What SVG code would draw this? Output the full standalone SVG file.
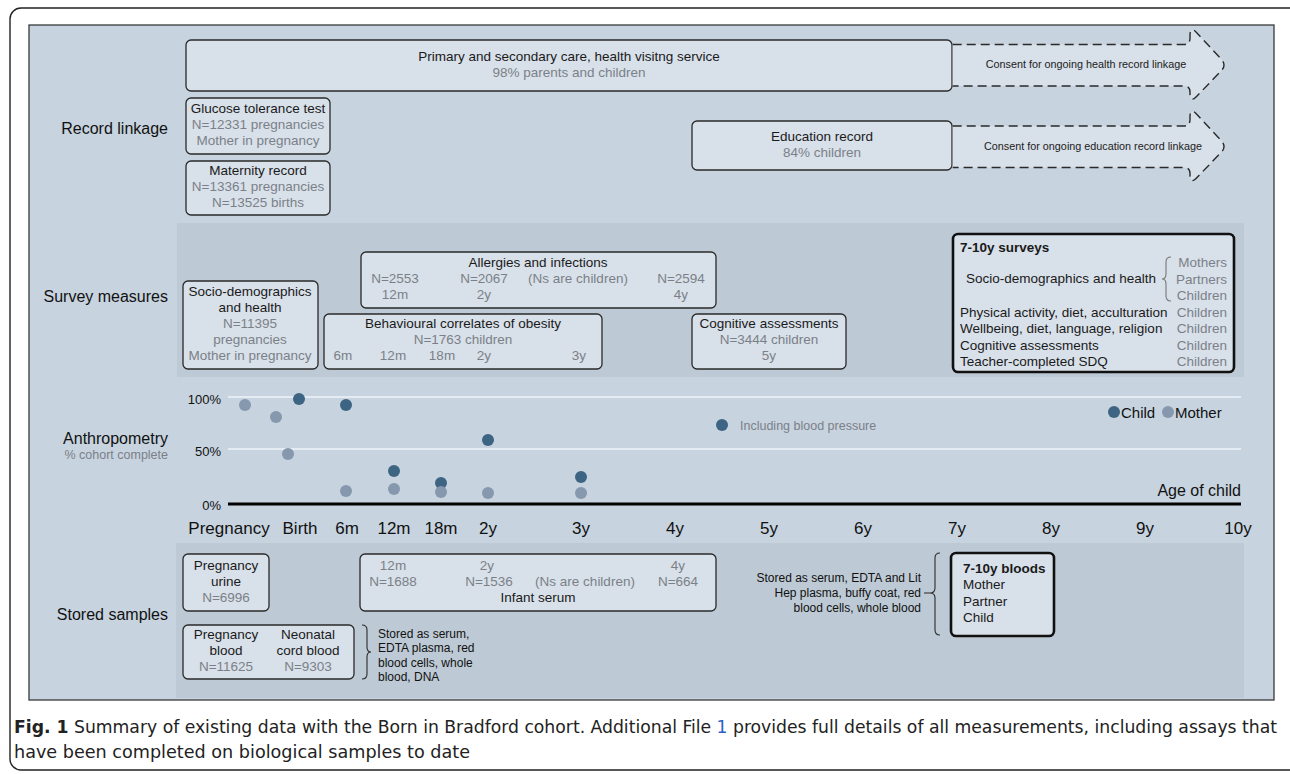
<svg xmlns="http://www.w3.org/2000/svg" width="1290" height="774" viewBox="0 0 1290 774">
<defs>
<style>
text{font-family:"Liberation Sans",Arial,sans-serif;}
.box{fill:#d8e0e9;stroke:#2a2a2a;stroke-width:1.3;}
.thick{fill:#d8e0e9;stroke:#111;stroke-width:2.6;}
.t{font-size:13.5px;fill:#1a1a1a;}
.g{font-size:13.5px;fill:#7b8088;}
.c{text-anchor:middle;}
.e{text-anchor:end;}
.lab{font-size:16px;fill:#111;text-anchor:end;}
.arrow{fill:#d8e0e9;stroke:#2a2a2a;stroke-width:1.4;stroke-dasharray:9,5;}
.brace{fill:none;stroke:#2a2a2a;stroke-width:1.1;}
.grid{stroke:#eef3f8;stroke-width:1.6;}
.child{fill:#3d6483;}
.mother{fill:#8698ad;}
.ax{font-size:17px;fill:#111;text-anchor:middle;}
.yl{font-size:13px;fill:#111;text-anchor:end;}
.cap{font-family:"DejaVu Sans Condensed","Liberation Sans Narrow","Liberation Sans",sans-serif;font-stretch:condensed;font-size:17px;fill:#222;}
</style>
</defs>
<rect x="10" y="8" width="1290" height="762" rx="11" fill="#fff" stroke="#222" stroke-width="1.4"/>
<rect x="29" y="25" width="1245" height="675" fill="#c7d3df" stroke="#3a3a3a" stroke-width="1.3"/>
<rect x="177" y="223" width="1067" height="154" fill="#bdc9d4"/>
<rect x="176" y="543" width="1068" height="155" fill="#bdc9d4"/>

<g id="row-labels">
<text class="lab" x="168" y="134">Record linkage</text>
<text class="lab" x="168" y="302">Survey measures</text>
<text class="lab" x="168" y="444">Anthropometry</text>
<text x="168" y="459" style="font-size:12.5px;fill:#7b8088;text-anchor:end">% cohort complete</text>
<text class="lab" x="168" y="620">Stored samples</text>
</g>

<g id="primary-care">
<rect class="box" x="186" y="40" width="766" height="51" rx="5"/>
<text class="t c" x="569" y="61">Primary and secondary care, health visitng service</text>
<text class="g c" x="569" y="77">98% parents and children</text>
</g>
<g id="education-record">
<rect class="box" x="692" y="121" width="260" height="49" rx="5"/>
<text class="t c" x="822" y="141">Education record</text>
<text class="g c" x="822" y="157">84% children</text>
</g>
<g id="glucose">
<rect class="box" x="186" y="98" width="144" height="56" rx="5"/>
<text class="t c" x="258" y="113">Glucose tolerance test</text>
<text class="g c" x="258" y="129">N=12331 pregnancies</text>
<text class="g c" x="258" y="145">Mother in pregnancy</text>
</g>
<g id="maternity">
<rect class="box" x="186" y="161" width="144" height="54" rx="5"/>
<text class="t c" x="258" y="175">Maternity record</text>
<text class="g c" x="258" y="191">N=13361 pregnancies</text>
<text class="g c" x="258" y="207">N=13525 births</text>
</g>

<g id="socio">
<rect class="box" x="183" y="281" width="135" height="88" rx="5"/>
<text class="t c" x="250" y="296">Socio-demographics</text>
<text class="t c" x="250" y="312">and health</text>
<text class="g c" x="250" y="328">N=11395</text>
<text class="g c" x="250" y="344">pregnancies</text>
<text class="g c" x="250" y="360">Mother in pregnancy</text>
</g>
<g id="allergies">
<rect class="box" x="361" y="252" width="355" height="56" rx="5"/>
<text class="t c" x="538" y="267">Allergies and infections</text>
<text class="g c" x="395" y="283">N=2553</text>
<text class="g c" x="484" y="283">N=2067</text>
<text class="g c" x="578" y="283">(Ns are children)</text>
<text class="g c" x="681" y="283">N=2594</text>
<text class="g c" x="395" y="299">12m</text>
<text class="g c" x="484" y="299">2y</text>
<text class="g c" x="681" y="299">4y</text>
</g>
<g id="behavioural">
<rect class="box" x="324" y="314" width="278" height="55" rx="5"/>
<text class="t c" x="463" y="328">Behavioural correlates of obesity</text>
<text class="g c" x="463" y="344">N=1763 children</text>
<text class="g c" x="343" y="360">6m</text>
<text class="g c" x="393" y="360">12m</text>
<text class="g c" x="442" y="360">18m</text>
<text class="g c" x="484" y="360">2y</text>
<text class="g c" x="579" y="360">3y</text>
</g>
<g id="cognitive">
<rect class="box" x="692" y="314" width="154" height="55" rx="5"/>
<text class="t c" x="769" y="328">Cognitive assessments</text>
<text class="g c" x="769" y="344">N=3444 children</text>
<text class="g c" x="769" y="360">5y</text>
</g>
<g id="surveys-7-10y">
<rect class="thick" x="953" y="234" width="281" height="138" rx="5"/>
<text class="t" x="960" y="252" style="font-weight:bold">7-10y surveys</text>
<text class="t c" x="1061" y="283">Socio-demographics and health</text>
<text class="g e" x="1227" y="267">Mothers</text>
<text class="g e" x="1227" y="284">Partners</text>
<text class="g e" x="1227" y="300">Children</text>
<text class="t" x="960" y="317">Physical activity, diet, acculturation</text>
<text class="g e" x="1227" y="317">Children</text>
<text class="t" x="960" y="333">Wellbeing, diet, language, religion</text>
<text class="g e" x="1227" y="333">Children</text>
<text class="t" x="960" y="350">Cognitive assessments</text>
<text class="g e" x="1227" y="350">Children</text>
<text class="t" x="960" y="366">Teacher-completed SDQ</text>
<text class="g e" x="1227" y="366">Children</text>
</g>

<g id="anthropometry-chart">
<line class="grid" x1="228" y1="397" x2="1241" y2="397"/>
<line class="grid" x1="228" y1="449" x2="1241" y2="449"/>
<line x1="228" y1="504" x2="1241" y2="504" stroke="#000" stroke-width="3"/>
<text class="yl" x="221" y="404">100%</text>
<text class="yl" x="221" y="456">50%</text>
<text class="yl" x="221" y="510">0%</text>
<text x="1241" y="496" style="font-size:16px;fill:#111;text-anchor:end">Age of child</text>
<text class="ax" x="229" y="534">Pregnancy</text>
<text class="ax" x="300" y="534">Birth</text>
<text class="ax" x="347" y="534">6m</text>
<text class="ax" x="394" y="534">12m</text>
<text class="ax" x="441" y="534">18m</text>
<text class="ax" x="488" y="534">2y</text>
<text class="ax" x="581" y="534">3y</text>
<text class="ax" x="675" y="534">4y</text>
<text class="ax" x="769" y="534">5y</text>
<text class="ax" x="863" y="534">6y</text>
<text class="ax" x="957" y="534">7y</text>
<text class="ax" x="1051" y="534">8y</text>
<text class="ax" x="1145" y="534">9y</text>
<text class="ax" x="1238" y="534">10y</text>
<circle class="mother" cx="245" cy="405" r="6"/>
<circle class="mother" cx="276" cy="417" r="6"/>
<circle class="mother" cx="288" cy="454" r="6"/>
<circle class="child" cx="299" cy="399" r="6"/>
<circle class="child" cx="346" cy="405" r="6"/>
<circle class="mother" cx="346" cy="491" r="6"/>
<circle class="child" cx="394" cy="471" r="6"/>
<circle class="mother" cx="394" cy="489" r="6"/>
<circle class="child" cx="441" cy="483" r="6"/>
<circle class="mother" cx="441" cy="492" r="6"/>
<circle class="child" cx="488" cy="440" r="6"/>
<circle class="mother" cx="488" cy="493" r="6"/>
<circle class="child" cx="581" cy="477" r="6"/>
<circle class="mother" cx="581" cy="493" r="6"/>
<circle class="child" cx="722" cy="425" r="6"/>
<text x="740" y="430" style="font-size:12.5px;fill:#7b8088">Including blood pressure</text>
<circle class="child" cx="1114" cy="412" r="6"/>
<text x="1121" y="418" style="font-size:15px;fill:#111">Child</text>
<circle class="mother" cx="1168" cy="412" r="6"/>
<text x="1175" y="418" style="font-size:15px;fill:#111">Mother</text>
</g>

<g id="urine">
<rect class="box" x="183" y="554" width="86" height="57" rx="5"/>
<text class="t c" x="226" y="570">Pregnancy</text>
<text class="t c" x="226" y="586">urine</text>
<text class="g c" x="226" y="602">N=6996</text>
</g>
<g id="infant-serum">
<rect class="box" x="360" y="554" width="356" height="57" rx="5"/>
<text class="g c" x="393" y="570">12m</text>
<text class="g c" x="487" y="570">2y</text>
<text class="g c" x="678" y="570">4y</text>
<text class="g c" x="393" y="586">N=1688</text>
<text class="g c" x="489" y="586">N=1536</text>
<text class="g c" x="585" y="586">(Ns are children)</text>
<text class="g c" x="678" y="586">N=664</text>
<text class="t c" x="538" y="602">Infant serum</text>
</g>
<g id="blood">
<rect class="box" x="183" y="625" width="171" height="54" rx="5"/>
<text class="t c" x="226" y="639">Pregnancy</text>
<text class="t c" x="226" y="655">blood</text>
<text class="g c" x="226" y="671">N=11625</text>
<text class="t c" x="308" y="639">Neonatal</text>
<text class="t c" x="308" y="655">cord blood</text>
<text class="g c" x="308" y="671">N=9303</text>
</g>
<g id="stored-note-1">
<text x="378" y="638" style="font-size:12px;fill:#111">Stored as serum,</text>
<text x="378" y="652" style="font-size:12px;fill:#111">EDTA plasma, red</text>
<text x="378" y="667" style="font-size:12px;fill:#111">blood cells, whole</text>
<text x="378" y="681" style="font-size:12px;fill:#111">blood, DNA</text>
</g>
<g id="stored-note-2">
<text x="921" y="582" style="font-size:12px;fill:#111;text-anchor:end">Stored as serum, EDTA and Lit</text>
<text x="921" y="597" style="font-size:12px;fill:#111;text-anchor:end">Hep plasma, buffy coat, red</text>
<text x="921" y="612" style="font-size:12px;fill:#111;text-anchor:end">blood cells, whole blood</text>
</g>
<g id="bloods-7-10y">
<rect class="thick" x="951" y="553" width="103" height="83" rx="5"/>
<text class="t" x="963" y="573" style="font-weight:bold">7-10y bloods</text>
<text class="t" x="963" y="589">Mother</text>
<text class="t" x="963" y="606">Partner</text>
<text class="t" x="963" y="622">Child</text>
</g>

<g id="connectors">
<path id="health-arrow" class="arrow" d="M952.7,44.5 L1184,44.5 Q1190,44.5 1190,38 L1190,34 Q1191,27 1196,32 L1222,60 Q1226,65 1222,70 L1196,97 Q1191,102 1190,95 L1190,92 Q1190,86 1184,86 L952.7,86"/>
<path id="edu-arrow" class="arrow" transform="translate(0,81.5)" d="M952.7,44.5 L1184,44.5 Q1190,44.5 1190,38 L1190,34 Q1191,27 1196,32 L1222,60 Q1226,65 1222,70 L1196,97 Q1191,102 1190,95 L1190,92 Q1190,86 1184,86 L952.7,86"/>
<text x="1086" y="68" style="font-size:10.8px;fill:#222;text-anchor:middle">Consent for ongoing health record linkage</text>
<text x="1093" y="150" style="font-size:10.8px;fill:#222;text-anchor:middle">Consent for ongoing education record linkage</text>
<path class="brace" style="stroke:#777" d="M1171,257 Q1166,257 1166,262 L1166,274 Q1166,279 1162,279 Q1166,279 1166,284 L1166,296 Q1166,301 1171,301"/>
<path class="brace" d="M362,625 Q367,625 367,630 L367,647 Q367,652 371,652 Q367,652 367,657 L367,674 Q367,679 362,679"/>
<path class="brace" d="M940,553 Q935,553 935,558 L935,588 Q935,593 930,593 L924,593 M930,593 Q935,593 935,598 L935,630 Q935,635 940,635"/>
</g>

<g id="caption">
<text class="cap" x="14" y="733" textLength="1263" lengthAdjust="spacingAndGlyphs"><tspan style="font-weight:bold">Fig. 1</tspan> Summary of existing data with the Born in Bradford cohort. Additional File <tspan fill="#2a5fc9">1</tspan> provides full details of all measurements, including assays that</text>
<text class="cap" x="14" y="758" textLength="456" lengthAdjust="spacingAndGlyphs">have been completed on biological samples to date</text>
</g>
</svg>
